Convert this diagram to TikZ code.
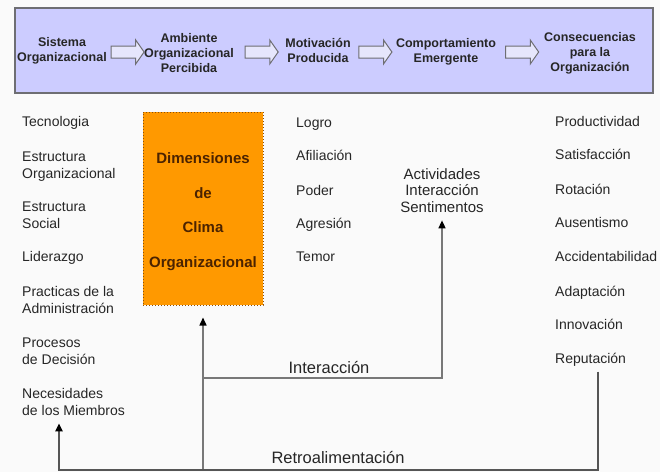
\documentclass[tikz,border=0pt]{standalone}
\usepackage{fontspec}
\setmainfont{Liberation Sans}
\usetikzlibrary{shapes.arrows,arrows.meta,calc}

\definecolor{paper}{RGB}{250,250,250}
\definecolor{lavender}{RGB}{204,204,255}
\definecolor{arrowfill}{RGB}{230,230,252}
\definecolor{frame}{RGB}{110,110,115}
\definecolor{clima}{RGB}{255,153,0}
\definecolor{climaedge}{RGB}{140,80,10}
\definecolor{climatext}{RGB}{75,35,0}
\definecolor{linkgray}{RGB}{120,120,120}
\definecolor{feedgray}{RGB}{85,85,85}

\begin{document}
\begin{tikzpicture}[x=1pt,y=-1pt,
    chainbox/.style={font=\fontsize{12.5}{15}\selectfont\bfseries, align=center, inner sep=0pt, text=black!85},
    blockarrow/.style={single arrow, draw=frame, line width=1pt, fill=arrowfill,
        minimum height=33pt, minimum width=23pt, single arrow head extend=6pt,
        single arrow tip angle=110, inner sep=5.5pt},
    factor/.style={font=\fontsize{14}{16.5}\selectfont, align=left, anchor=base west, inner sep=0pt,
        text=black!85},
    climabox/.style={draw=climaedge, dotted, line width=1pt, fill=clima,
        minimum width=120pt, minimum height=193pt, inner sep=0pt, align=center,
        text=climatext, font=\fontsize{15}{34.5}\selectfont\bfseries},
    looplabel/.style={font=\fontsize{16.5}{18}\selectfont, inner sep=0pt, text=black!85},
    link/.style={draw=linkgray, line width=1.5pt},
    feedback/.style={draw=feedgray, line width=2.2pt},
    headtip/.style={-{Triangle[length=8pt,width=7pt,color=black]}}
]

    \fill[paper] (0,0) rectangle (660,472);
    \useasboundingbox (0,0) rectangle (660,472);

    %% Top chain

    % Frame
    \draw[draw=frame, line width=1.8pt, fill=lavender] (15,8) rectangle (653,93);

    % Stages
    \node[chainbox] (sis) at (62,51) {Sistema\\Organizacional};
    \node[chainbox] (amb) at (189,53.5) {Ambiente\\Organizacional\\Percibida};
    \node[chainbox] (mot) at (318,50.5) {Motivación\\Producida};
    \node[chainbox] (com) at (446,51.5) {Comportamiento\\Emergente};
    \node[chainbox] (con) at (590,53.5) {Consecuencias\\para la\\Organización};

    % Block arrows
    \node[blockarrow] (a1) at ($(sis.east |- 0,52)!0.5!(amb.west |- 0,52)$) {};
    \node[blockarrow] (a2) at ($(amb.east |- 0,52)!0.5!(mot.west |- 0,52)$) {};
    \node[blockarrow] (a3) at ($(mot.east |- 0,52)!0.5!(com.west |- 0,52)$) {};
    \node[blockarrow] (a4) at ($(com.east |- 0,52)!0.5!(con.west |- 0,52)$) {};

    %% Lower part

    % Organisational factors (y = baseline of last line)
    \node[factor] (tec) at (22,126.5) {Tecnologia};
    \node[factor] (eorg) at (22,178) {Estructura\\Organizacional};
    \node[factor] (esoc) at (22,228) {Estructura\\Social};
    \node[factor] (lid) at (22,261.5) {Liderazgo};
    \node[factor] (adm) at (22,313) {Practicas de la\\Administración};
    \node[factor] (dec) at (22,364) {Procesos\\de Decisión};
    \node[factor] (nec) at (22,415) {Necesidades\\de los Miembros};

    % Climate box
    \node[climabox] (dim) at (203,208.5) {\rule{0pt}{17pt}Dimensiones\\de\\Clima\\Organizacional};

    % Motives
    \node[factor] (log) at (296,127.5) {Logro};
    \node[factor] (afi) at (296,160.5) {Afiliación};
    \node[factor] (pod) at (296,195.5) {Poder};
    \node[factor] (agr) at (296,228.5) {Agresión};
    \node[factor] (tem) at (296,261.5) {Temor};

    % Behaviour
    \node[factor, anchor=base, align=center, font=\fontsize{15}{16.5}\selectfont] (act) at (442,212) {Actividades\\Interacción\\Sentimentos};

    % Consequences
    \node[factor] (pro) at (555,126.5) {Productividad};
    \node[factor] (sat) at (555,159.5) {Satisfacción};
    \node[factor] (rot) at (555,194.5) {Rotación};
    \node[factor] (aus) at (555,227.5) {Ausentismo};
    \node[factor] (acc) at (555,261.5) {Accidentabilidad};
    \node[factor] (ada) at (555,296.5) {Adaptación};
    \node[factor] (inn) at (555,329.5) {Innovación};
    \node[factor] (rep) at (555,363.5) {Reputación};

    %% Loops
    \coordinate (jb) at (203,470);
    \coordinate (ji) at (203,378);
    \coordinate (fbR) at (598,470);
    \coordinate (fbL) at (59,470);

    % Interaction
    \draw[link, headtip, shorten >=12pt] (jb) -- (dim.south);
    \draw[link, headtip, shorten >=8pt] (ji) -| (act.south);
    \node[looplabel] (int) at (329,367) {Interacción};

    % Feedback
    \draw[feedback, headtip, shorten >=8pt] ($(rep.south -| fbR)+(0,5)$) -- (fbR) -- (fbL) -- (fbL |- nec.south);
    \node[looplabel] (ret) at (338,457) {Retroalimentación};

\end{tikzpicture}
\end{document}
